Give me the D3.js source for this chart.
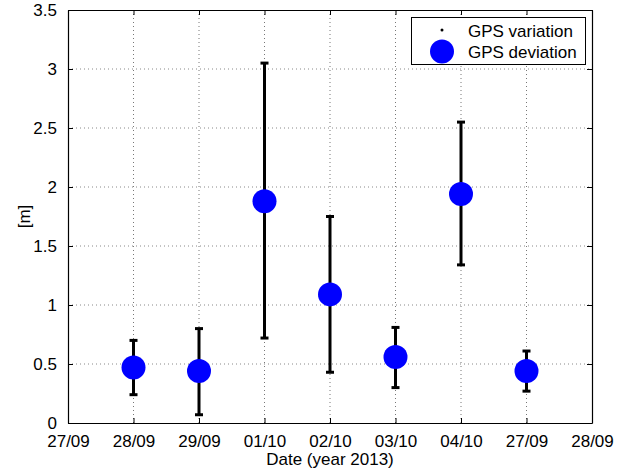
<!DOCTYPE html>
<html>
<head>
<meta charset="utf-8">
<script src="https://cdn.jsdelivr.net/npm/d3@7"></script>
<style>
  html, body { margin: 0; padding: 0; background: #fff; }
  svg { display: block; font-family: "Liberation Sans", Arial, Helvetica, sans-serif; }
</style>
</head>
<body>
<svg id="chart" width="628" height="470"></svg>
<script>
// Tick labels along the date axis (positions 0..8)
const tickLabels = ["27/09", "28/09", "29/09", "01/10", "02/10", "03/10", "04/10", "27/09", "28/09"];
// Measurement positions on the date axis
const positions = [1, 2, 3, 4, 5, 6, 7];
// GPS deviation (mean) in metres
const deviation = [0.47, 0.44, 1.88, 1.09, 0.56, 1.94, 0.44];
// GPS variation range: lower and upper ends of each bar
const lower = [0.24, 0.07, 0.72, 0.43, 0.30, 1.34, 0.27];
const upper = [0.70, 0.80, 3.05, 1.75, 0.81, 2.55, 0.61];
const yTicks = [0, 0.5, 1, 1.5, 2, 2.5, 3, 3.5];

const svg = d3.select("#chart");
const plotL = 68, plotR = 592, plotT = 10, plotB = 423;
const fs = 17;

const x = d3.scaleLinear().domain([0, 8]).range([plotL, plotR]);
const y = d3.scaleLinear().domain([0, 3.5]).range([plotB, plotT]);

// grid
const grid = svg.append("g");
grid.selectAll("line.gx").data(d3.range(1, 8)).join("line")
  .attr("x1", d => x(d)).attr("x2", d => x(d))
  .attr("y1", plotT).attr("y2", plotB)
  .attr("stroke", "#777").attr("stroke-width", 1).attr("stroke-dasharray", "1,3");
grid.selectAll("line.gy").data(yTicks.slice(1, -1)).join("line")
  .attr("x1", plotL).attr("x2", plotR)
  .attr("y1", d => y(d)).attr("y2", d => y(d))
  .attr("stroke", "#888").attr("stroke-width", 1).attr("stroke-dasharray", "1,3");

// axes with inward ticks on all four sides
const fmtX = (d, i) => tickLabels[i];
const xb = svg.append("g").attr("transform", `translate(0,${plotB})`)
  .call(d3.axisBottom(x).tickValues(d3.range(0, 9)).tickFormat(fmtX).tickSizeInner(-5).tickSizeOuter(0).tickPadding(12));
const xt = svg.append("g").attr("transform", `translate(0,${plotT})`)
  .call(d3.axisTop(x).tickValues(d3.range(0, 9)).tickFormat("").tickSizeInner(-5).tickSizeOuter(0));
const yl = svg.append("g").attr("transform", `translate(${plotL},0)`)
  .call(d3.axisLeft(y).tickValues(yTicks).tickFormat(d3.format("")).tickSizeInner(-5).tickSizeOuter(0).tickPadding(11));
const yr = svg.append("g").attr("transform", `translate(${plotR},0)`)
  .call(d3.axisRight(y).tickValues(yTicks).tickFormat("").tickSizeInner(-5).tickSizeOuter(0));
[xb, xt, yl, yr].forEach(g => {
  g.select(".domain").attr("stroke", "#000").attr("stroke-width", 1.2);
  g.selectAll(".tick line").attr("stroke", "#000");
  g.selectAll(".tick text").attr("fill", "#000").style("font-size", fs + "px")
    .style("font-family", '"Liberation Sans", Arial, sans-serif');
});

// error bars
const capW = 4;
const bars = svg.append("g").selectAll("g").data(positions).join("g");
bars.append("line")
  .attr("x1", (d) => x(d)).attr("x2", (d) => x(d))
  .attr("y1", (d, i) => y(lower[i])).attr("y2", (d, i) => y(upper[i]))
  .attr("stroke", "#000").attr("stroke-width", 3);
bars.append("line")
  .attr("x1", d => x(d) - capW).attr("x2", d => x(d) + capW)
  .attr("y1", (d, i) => y(lower[i])).attr("y2", (d, i) => y(lower[i]))
  .attr("stroke", "#000").attr("stroke-width", 3);
bars.append("line")
  .attr("x1", d => x(d) - capW).attr("x2", d => x(d) + capW)
  .attr("y1", (d, i) => y(upper[i])).attr("y2", (d, i) => y(upper[i]))
  .attr("stroke", "#000").attr("stroke-width", 3);

// deviation markers
svg.append("g").selectAll("circle").data(positions).join("circle")
  .attr("cx", d => x(d)).attr("cy", (d, i) => y(deviation[i]))
  .attr("r", 12).attr("fill", "#0000ff");

// axis titles
svg.append("text").attr("x", (plotL + plotR) / 2).attr("y", 465)
  .attr("text-anchor", "middle").style("font-size", fs + "px").text("Date (year 2013)");
svg.append("text").attr("transform", `translate(30,${(plotT + plotB) / 2}) rotate(-90)`)
  .attr("text-anchor", "middle").style("font-size", fs + "px").text("[m]");

// legend
const lg = svg.append("g");
lg.append("rect").attr("x", 411.5).attr("y", 17.5).attr("width", 174).attr("height", 47)
  .attr("fill", "#fff").attr("stroke", "#000").attr("stroke-width", 1);
lg.append("circle").attr("cx", 442).attr("cy", 30).attr("r", 1.5).attr("fill", "#000");
lg.append("text").attr("x", 468).attr("y", 36.5).style("font-size", fs + "px").text("GPS variation");
lg.append("circle").attr("cx", 442).attr("cy", 51.5).attr("r", 12).attr("fill", "#0000ff");
lg.append("text").attr("x", 468).attr("y", 57.5).style("font-size", fs + "px").text("GPS deviation");
</script>
</body>
</html>
